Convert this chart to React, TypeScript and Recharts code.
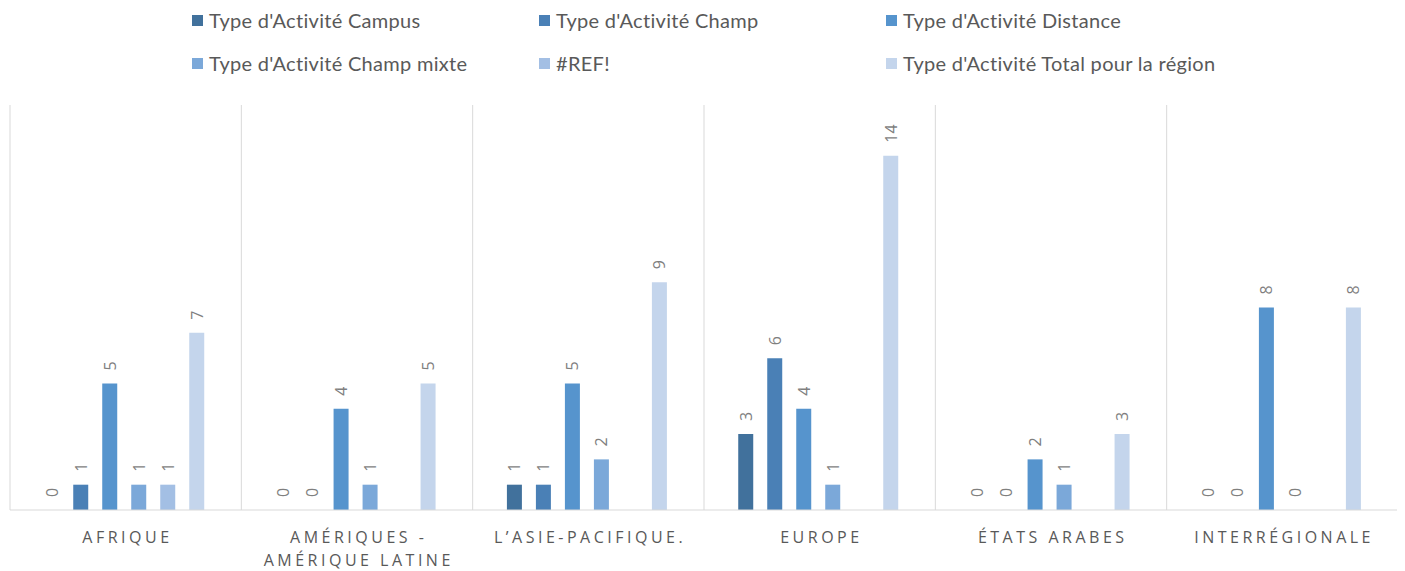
import React from "react";
import { BarChart, Bar, XAxis, YAxis, CartesianGrid, Legend, LabelList } from "recharts";

const categories = [
  "AFRIQUE",
  "AMÉRIQUES - AMÉRIQUE LATINE",
  "L’ASIE-PACIFIQUE.",
  "EUROPE",
  "ÉTATS ARABES",
  "INTERRÉGIONALE",
];

const tickLines = [
  ["AFRIQUE"],
  ["AMÉRIQUES -", "AMÉRIQUE LATINE"],
  ["L’ASIE-PACIFIQUE."],
  ["EUROPE"],
  ["ÉTATS ARABES"],
  ["INTERRÉGIONALE"],
];

const campus = [0, 0, 1, 3, 0, 0];
const champ = [1, 0, 1, 6, 0, 0];
const distance = [5, 4, 5, 4, 2, 8];
const champMixte = [1, 1, 2, 1, 1, 0];
const refErreur = [1, null, null, null, null, null];
const total = [7, 5, 9, 14, 3, 8];

const series = [
  { key: "campus", name: "Type d'Activité Campus", color: "#41719c", values: campus },
  { key: "champ", name: "Type d'Activité Champ", color: "#4a80b6", values: champ },
  { key: "distance", name: "Type d'Activité Distance", color: "#5694cd", values: distance },
  { key: "champMixte", name: "Type d'Activité Champ mixte", color: "#7ba8d9", values: champMixte },
  { key: "refErreur", name: "#REF!", color: "#a3bfe4", values: refErreur },
  { key: "total", name: "Type d'Activité Total pour la région", color: "#c4d5ec", values: total },
];

const data = categories.map((c, i) => {
  const row: any = { category: c };
  series.forEach((s) => (row[s.key] = s.values[i]));
  return row;
});

const FONT = "'Open Sans', sans-serif";
const LEGEND_FONT = "Lato, 'Open Sans', sans-serif";

const renderLabel = (props: any) => {
  const { x, y, width, value } = props;
  if (value === null || value === undefined) return null;
  const cx = x + width / 2;
  const ty = y - 13;
  return (
    <text
      x={cx}
      y={ty}
      transform={`rotate(-90 ${cx} ${ty})`}
      textAnchor="start"
      dominantBaseline="central"
      fill="#7f7f7f"
      fontSize={16}
      fontFamily={FONT}
    >
      {value}
    </text>
  );
};

const CategoryTick = (props: any) => {
  const { x, y, payload } = props;
  const lines = tickLines[payload.index] || [payload.value];
  const ls = 3.5;
  return (
    <text
      x={x}
      y={y}
      textAnchor="middle"
      fill="#595959"
      fontSize={16}
      fontFamily={FONT}
      letterSpacing={ls}
    >
      {lines.map((l, i) => (
        <tspan key={i} x={x + ls / 2} dy={i === 0 ? 33 : 23}>
          {l}
        </tspan>
      ))}
    </text>
  );
};

// vertical separators on the category boundaries
const boundaryLines = ({ offset }: any) =>
  categories.concat([""]).map((_, i) => offset.left + (i * offset.width) / categories.length);

const renderLegend = () => (
  <div
    style={{
      height: 80,
      width: 1397,
      position: "relative",
      fontFamily: LEGEND_FONT,
      fontSize: 20,
      letterSpacing: 0.3,
      color: "#595959",
    }}
  >
    {series.map((s, i) => {
      const col = i % 3;
      const row = Math.floor(i / 3);
      return (
        <div
          key={s.key}
          style={{
            position: "absolute",
            left: 184 + col * 347,
            top: 12 + row * 43,
            transform: "translateY(-50%)",
            display: "flex",
            alignItems: "center",
            whiteSpace: "nowrap",
          }}
        >
          <span
            style={{
              display: "inline-block",
              width: 11,
              height: 11,
              background: s.color,
              marginRight: 6,
            }}
          />
          <span>{s.name}</span>
        </div>
      );
    })}
  </div>
);

export default function App() {
  return (
    <BarChart
      width={1397}
      height={563}
      data={data}
      margin={{ top: 17, right: 7, left: 2, bottom: 0 }}
      barCategoryGap="14.8%"
      barGap={14}
    >
      <CartesianGrid horizontal={false} verticalCoordinatesGenerator={boundaryLines} stroke="#d9d9d9" />
      <XAxis
        dataKey="category"
        tick={<CategoryTick />}
        tickLine={false}
        tickSize={0}
        tickMargin={0}
        axisLine={{ stroke: "#d9d9d9" }}
        height={61}
        interval={0}
      />
      <YAxis hide domain={[0, 16]} />
      <Legend
        verticalAlign="top"
        content={renderLegend}
        wrapperStyle={{ top: 0, left: 0 }}
      />
      {series.map((s) => (
        <Bar
          key={s.key}
          dataKey={s.key}
          name={s.name}
          fill={s.color}
          minPointSize={(v: any) => (v === 0 ? 0.01 : 0)}
          isAnimationActive={false}
        >
          <LabelList dataKey={s.key} content={renderLabel} />
        </Bar>
      ))}
    </BarChart>
  );
}
